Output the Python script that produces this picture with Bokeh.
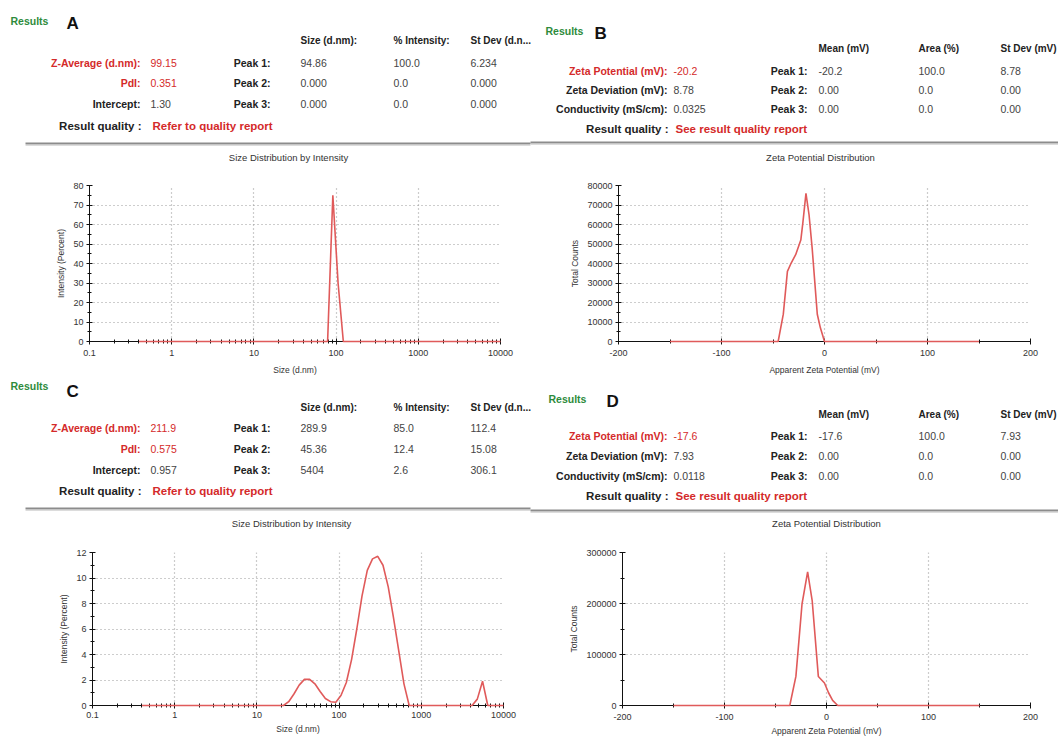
from bokeh.plotting import figure
from bokeh.models import Range1d, FixedTicker, SingleIntervalTicker, CustomJSTickFormatter
from bokeh.layouts import column, row
from bokeh.core.properties import value
from bokeh.embed import file_html
from bokeh.resources import INLINE

FONT = "Liberation Sans"
RED = "#d42a2a"
GREEN = "#2e8b3c"
LINE_RED = "#e05a5a"
TOTAL_W = 1058

# ---------------- data ----------------
size_bins = [0.4, 0.4632, 0.5365, 0.6213, 0.7195, 0.8332, 0.9649, 1.117, 1.294, 1.499,
             1.736, 2.01, 2.328, 2.696, 3.122, 3.615, 4.187, 4.849, 5.615, 6.503,
             7.531, 8.721, 10.1, 11.7, 13.54, 15.69, 18.17, 21.04, 24.36, 28.21,
             32.67, 37.84, 43.82, 50.75, 58.77, 68.06, 78.82, 91.28, 105.7, 122.4,
             141.8, 164.2, 190.1, 220.2, 255.0, 295.3, 342.0, 396.1, 458.7, 531.2,
             615.1, 712.4, 825.0, 955.4, 1106, 1281, 1484, 1718, 1990, 2305,
             2669, 3091, 3580, 4145, 4801, 5560, 6439, 7456, 8635, 10000]

intensity_A = [0, 0, 0, 0, 0, 0, 0, 0, 0, 0,
               0, 0, 0, 0, 0, 0, 0, 0, 0, 0,
               0, 0, 0, 0, 0, 0, 0, 0, 0, 0,
               0, 0, 0, 0, 0, 0, 0, 75.0, 30.0, 0,
               0, 0, 0, 0, 0, 0, 0, 0, 0, 0,
               0, 0, 0, 0, 0, 0, 0, 0, 0, 0,
               0, 0, 0, 0, 0, 0, 0, 0, 0, 0]

intensity_C = [0, 0, 0, 0, 0, 0, 0, 0, 0, 0,
               0, 0, 0, 0, 0, 0, 0, 0, 0, 0,
               0, 0, 0, 0, 0, 0, 0, 0, 0.3, 0.9,
               1.6, 2.05, 2.05, 1.7, 1.1, 0.55, 0.3, 0.25, 0.8, 1.8,
               3.6, 6.0, 8.6, 10.6, 11.5, 11.7, 11.0, 9.3, 6.9, 4.3,
               1.7, 0, 0, 0, 0, 0, 0, 0, 0, 0,
               0, 0, 0, 0, 0.5, 1.9, 0, 0, 0, 0]

zeta_B = [-150, -45, -40, -36, -33, -28, -23, -21, -18, -15, -12, -7, -4, 0, 150]
counts_B = [0, 0, 14000, 36000, 39500, 44500, 52000, 61000, 76000, 65000, 48000, 14000, 7000, 0, 0]

zeta_D = [-150, -36, -30, -24, -18.5, -14, -8, -2, 2, 6, 11, 150]
counts_D = [0, 0, 57000, 199000, 262000, 205000, 57000, 44000, 25000, 10000, 0, 0]

size_cols = ["Size (d.nm):", "% Intensity:", "St Dev (d.n..."]
zeta_cols = ["Mean (mV)", "Area (%)", "St Dev (mV)"]
peak_labels = ["Peak 1:", "Peak 2:", "Peak 3:"]
size_left_labels = ["Z-Average (d.nm):", "PdI:", "Intercept:"]
zeta_left_labels = ["Zeta Potential (mV):", "Zeta Deviation (mV):", "Conductivity (mS/cm):"]

A_left_values = ["99.15", "0.351", "1.30"]
A_peaks = [["94.86", "100.0", "6.234"], ["0.000", "0.0", "0.000"], ["0.000", "0.0", "0.000"]]
C_left_values = ["211.9", "0.575", "0.957"]
C_peaks = [["289.9", "85.0", "112.4"], ["45.36", "12.4", "15.08"], ["5404", "2.6", "306.1"]]
B_left_values = ["-20.2", "8.78", "0.0325"]
B_peaks = [["-20.2", "100.0", "8.78"], ["0.00", "0.0", "0.00"], ["0.00", "0.0", "0.00"]]
D_left_values = ["-17.6", "7.93", "0.0118"]
D_peaks = [["-17.6", "100.0", "7.93"], ["0.00", "0.0", "0.00"], ["0.00", "0.0", "0.00"]]

size_red_rows = [True, True, False]
zeta_red_rows = [True, False, False]


# ---------------- helpers ----------------
def txt(p, x, y, s, size="10.5px", color="#222222", style="normal", align="left"):
    p.text(x=[x], y=[y], text=[s], text_font=value(FONT), text_font_size=size,
           text_color=color, text_font_style=style, text_align=align, text_baseline="middle")


def header_fig(y0, h):
    p = figure(width=TOTAL_W, height=h, x_range=Range1d(0, TOTAL_W), y_range=Range1d(y0 + h, y0),
               min_border=0, toolbar_location=None, output_backend="svg",
               x_axis_location=None, y_axis_location=None)
    p.grid.visible = False
    p.outline_line_color = None
    return p


def header(p, letter, res_xy, let_xy, cols_y, col_xs, row_ys, lab_right, val_x,
           peak_right, labels, values, red_rows, cols, peaks, q_y, q_text, sep_y, sep_x0, sep_x1,
           title, title_xy):
    txt(p, res_xy[0], res_xy[1], "Results", size="10.5px", color=GREEN, style="bold")
    txt(p, let_xy[0], let_xy[1], letter, size="17px", color="#111111", style="bold")
    for cx, c in zip(col_xs, cols):
        txt(p, cx, cols_y, c, size="10px", style="bold", color="#222222")
    for i, ry in enumerate(row_ys):
        red = red_rows[i]
        txt(p, lab_right, ry, labels[i], style="bold", color=RED if red else "#222222", align="right")
        txt(p, val_x, ry, values[i], color=RED if red else "#444444")
        txt(p, peak_right, ry, peak_labels[i], style="bold", color="#222222", align="right")
        for cx, v in zip(col_xs, peaks[i]):
            txt(p, cx, ry, v, color="#444444")
    txt(p, lab_right + 1, q_y, "Result quality :", size="11.5px", style="bold", color="#222222", align="right")
    txt(p, val_x + 2, q_y, q_text, size="11.5px", style="bold", color=RED)
    p.line(x=[sep_x0, sep_x1], y=[sep_y, sep_y], line_color="#8c8c8c", line_width=2)
    p.line(x=[sep_x0, sep_x1], y=[sep_y + 2, sep_y + 2], line_color="#dcdcdc", line_width=1)
    txt(p, title_xy[0], title_xy[1], title, size="9.5px", color="#333333", align="center")


def style_plot(p, xlabel, ylabel, yinterval, lab_standoff, title_standoff):
    p.outline_line_color = None
    p.background_fill_color = "white"
    for ax in (p.xaxis[0], p.yaxis[0]):
        ax.axis_line_color = "#111111"
        ax.axis_line_width = 1
        ax.major_tick_line_color = "#111111"
        ax.minor_tick_line_color = "#111111"
        ax.major_tick_in = 3
        ax.major_tick_out = 3
        ax.minor_tick_in = 2
        ax.minor_tick_out = 2
        ax.major_label_text_font = FONT
        ax.major_label_text_font_size = "9px"
        ax.major_label_text_color = "#333333"
        ax.axis_label_text_font = FONT
        ax.axis_label_text_font_size = "8.5px"
        ax.axis_label_text_font_style = "normal"
        ax.axis_label_text_color = "#333333"
    p.xaxis.major_label_standoff = lab_standoff
    p.xaxis.axis_label_standoff = title_standoff
    p.yaxis.major_label_standoff = 3
    p.yaxis.axis_label_standoff = 4
    p.xaxis.axis_label = xlabel
    p.yaxis.axis_label = ylabel
    p.yaxis.ticker = SingleIntervalTicker(interval=yinterval, num_minor_ticks=2)
    p.yaxis.formatter = CustomJSTickFormatter(code="return String(tick)")
    for g in (p.xgrid[0], p.ygrid[0]):
        g.grid_line_color = "#9a9a9a"
        g.grid_line_dash = "1 3"
        g.grid_line_width = 1.2


log_major = [0.1, 1, 10, 100, 1000, 10000]
log_minor = [m * 10 ** e for e in range(-1, 4) for m in range(2, 10)]


def size_plot(yvals, ymax, yint, top, bottom, left, right, height, ls, ts):
    p = figure(width=530, height=height, x_axis_type="log",
               x_range=Range1d(0.1, 10000), y_range=Range1d(0, ymax),
               min_border_left=left, min_border_right=right, min_border_top=top,
               min_border_bottom=bottom, toolbar_location=None, output_backend="svg")
    style_plot(p, "Size (d.nm)", "Intensity (Percent)", yint, ls, ts)
    p.xaxis.ticker = FixedTicker(ticks=log_major, minor_ticks=log_minor)
    p.xaxis.formatter = CustomJSTickFormatter(code="return String(tick)")
    r = p.line(size_bins, yvals, line_color=LINE_RED, line_width=1.6)
    r.level = "overlay"
    return p


def zeta_plot(xv, yv, ymax, yint, top, bottom, left, right, height, ls, ts):
    p = figure(width=TOTAL_W - 530, height=height, x_range=Range1d(-200, 200), y_range=Range1d(0, ymax),
               min_border_left=left, min_border_right=right, min_border_top=top,
               min_border_bottom=bottom, toolbar_location=None, output_backend="svg")
    style_plot(p, "Apparent Zeta Potential (mV)", "Total Counts", yint, ls, ts)
    p.xaxis.ticker = SingleIntervalTicker(interval=100, num_minor_ticks=2)
    p.xaxis.formatter = CustomJSTickFormatter(code="return String(tick)")
    r = p.line(xv, yv, line_color=LINE_RED, line_width=1.6)
    r.level = "overlay"
    return p


# ---------------- build ----------------
hAB = header_fig(0, 172)
header(hAB, "A", (10, 20), (66, 23), 40, [300, 393, 470], [62, 82, 103], 140, 150,
       270, size_left_labels, A_left_values, size_red_rows, size_cols, A_peaks, 125,
       "Refer to quality report", 143, 25, 530, "Size Distribution by Intensity", (288, 157))
header(hAB, "B", (545, 30), (594, 33), 48, [818, 918, 1000], [70, 89, 108], 667, 673,
       807, zeta_left_labels, B_left_values, zeta_red_rows, zeta_cols, B_peaks, 128,
       "See result quality report", 142, 530, TOTAL_W, "Zeta Potential Distribution", (820, 157))

hCD = header_fig(378, 162)
header(hCD, "C", (10, 385), (66, 391), 407, [300, 393, 470], [427, 448, 469], 140, 150,
       270, size_left_labels, C_left_values, size_red_rows, size_cols, C_peaks, 490,
       "Refer to quality report", 508, 25, 530, "Size Distribution by Intensity", (291, 523))
header(hCD, "D", (548, 398), (606, 401), 414, [818, 918, 1000], [435, 455, 475], 667, 673,
       807, zeta_left_labels, D_left_values, zeta_red_rows, zeta_cols, D_peaks, 495,
       "See result quality report", 510, 530, TOTAL_W, "Zeta Potential Distribution", (826, 523))

pA = size_plot(intensity_A, 80, 10, 13, 35, 89, 30, 206, 5, 6)
pB = zeta_plot(zeta_B, counts_B, 80000, 10000, 13, 37, 88, 28, 206, 5, 6)
pC = size_plot(intensity_C, 12, 2, 12, 27, 92, 27, 198, 3, 3)
pD = zeta_plot(zeta_D, counts_D, 300000, 100000, 12, 30, 92, 28, 198, 5, 3)

layout = column(hAB, row(pA, pB), hCD, row(pC, pD))

open("out.html", "w").write(file_html(layout, INLINE))
